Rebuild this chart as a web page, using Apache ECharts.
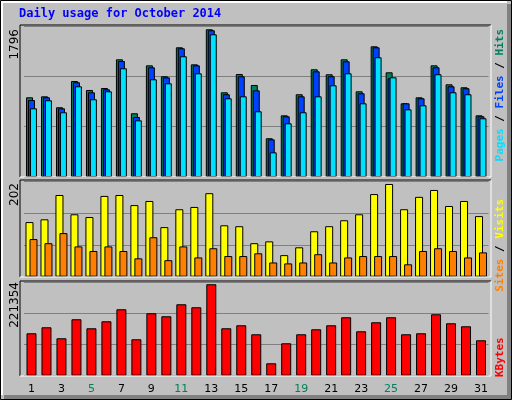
<!DOCTYPE html>
<html>
<head>
<meta charset="utf-8">
<script src="https://cdn.jsdelivr.net/npm/echarts@6/dist/echarts.min.js"></script>
<style>
  html, body { margin: 0; padding: 0; background: #c0c0c0; }
  #chart { width: 512px; height: 400px; }
</style>
</head>
<body>
<div id="chart"></div>
<script>
// Data
var days = ["1","2","3","4","5","6","7","8","9","10","11","12","13","14","15","16",
            "17","18","19","20","21","22","23","24","25","26","27","28","29","30","31"];
var weekendDays = ["4","5","11","12","18","19","25","26"];

var hits  = [969,981,848,1167,1058,1082,1431,775,1358,1225,1577,1370,1796,1030,1252,1119,
             471,750,1006,1310,1249,1431,1042,1589,1273,896,969,1358,1127,1091,750];
var files = [936,969,835,1152,1030,1066,1411,730,1334,1212,1565,1358,1784,1006,1225,1054,
             458,738,981,1285,1225,1407,1018,1577,1200,896,957,1334,1103,1079,738];
var pages = [835,933,787,1103,945,1042,1322,689,1188,1139,1468,1261,1735,957,981,799,
             300,653,787,981,1115,1261,896,1456,1212,823,872,1249,1030,1006,714];

var visits = [119,125,178,136,130,176,178,156,165,108,147,152,182,112,110,73,
              77,47,64,99,110,123,136,180,202,147,174,189,154,165,132];
var sites  = [82,73,95,66,56,66,56,40,86,36,66,42,62,45,45,51,
              31,29,31,49,31,42,45,45,45,27,56,62,56,42,53];

var kbytes = [102693,117225,90583,136601,114803,131757,160821,88161,151133,143867,172931,165665,
              221354,114803,122069,100271,30033,78473,100271,112381,122069,141445,107537,129355,
              141445,100271,102693,148711,126915,119647,85739];

var maxLabels = ["1796", "202", "221354"];

var chart = echarts.init(document.getElementById("chart"));

// Grid areas, one per panel
var grids = [
    { left: 24, width: 464.5, top: 26, height: 151 },
    { left: 24, width: 464.5, top: 181.7, height: 95 },
    { left: 24, width: 464.5, top: 282, height: 93.7 }
];
var yMax = [1836, 207, 226800];

function makeX(i) {
    return {
        type: "category", gridIndex: i, data: days,
        axisLine: { show: false }, axisTick: { show: false },
        axisLabel: i < 2 ? { show: false } : {
            margin: 8, fontFamily: "DejaVu Sans", fontSize: 11,
            color: function (v) { return weekendDays.indexOf(v) >= 0 ? "#00805c" : "#000"; }
        }
    };
}
function makeY(i) {
    return {
        type: "value", gridIndex: i, min: 0, max: yMax[i], interval: yMax[i] / 3,
        axisLabel: { show: false }, axisLine: { show: false }, axisTick: { show: false },
        splitLine: { lineStyle: { color: "#808080", width: 1 } }
    };
}
function bar(name, data, color, idx, width, gap) {
    return {
        name: name, type: "bar", data: data, xAxisIndex: idx, yAxisIndex: idx,
        barWidth: width, barGap: gap, animation: false,
        itemStyle: { color: color, borderColor: "#000", borderWidth: 1 }
    };
}

// Panel frames: dark on top/left, white on right/bottom
var frames = [];
[[20, 25, 491, 177], [20, 180, 491, 277], [20, 281, 491, 376]].forEach(function (f) {
    frames.push({ type: "line", shape: { x1: f[0], y1: f[1], x2: f[2], y2: f[1] }, style: { stroke: "#000", lineWidth: 1 }, z: 10 });
    frames.push({ type: "line", shape: { x1: f[0], y1: f[1], x2: f[0], y2: f[3] }, style: { stroke: "#000", lineWidth: 1 }, z: 10 });
    frames.push({ type: "line", shape: { x1: f[2], y1: f[1], x2: f[2], y2: f[3] }, style: { stroke: "#fff", lineWidth: 1 }, z: 10 });
    frames.push({ type: "line", shape: { x1: f[0], y1: f[3], x2: f[2], y2: f[3] }, style: { stroke: "#fff", lineWidth: 1 }, z: 10 });
});

var sideFont = "DejaVu Sans Mono";
var graphics = [
    { type: "rect", shape: { x: 0.5, y: 0.5, width: 511, height: 399 }, style: { fill: "#c0c0c0", stroke: "#000" }, z: -10 },
    { type: "rect", shape: { x: 507, y: 4, width: 4, height: 395 }, style: { fill: "#808080" }, z: -9 },
    { type: "rect", shape: { x: 4, y: 395, width: 507, height: 4 }, style: { fill: "#808080" }, z: -9 },
    { type: "polyline", shape: { points: [[2, 395], [2, 2], [507, 2]] }, style: { stroke: "#fff", fill: null, lineWidth: 2 }, z: -8 },
    { type: "text", x: 19, y: 8, style: { text: "Daily usage for October 2014", fill: "#0000ff",
        font: "bold 12px " + sideFont } },
    { type: "text", x: 15, y: 29, rotation: Math.PI / 2,
        style: { text: maxLabels[0], fill: "#000", font: "12px DejaVu Sans", align: "right", verticalAlign: "middle" } },
    { type: "text", x: 15, y: 183, rotation: Math.PI / 2,
        style: { text: maxLabels[1], fill: "#000", font: "12px DejaVu Sans", align: "right", verticalAlign: "middle" } },
    { type: "text", x: 15, y: 282, rotation: Math.PI / 2,
        style: { text: maxLabels[2], fill: "#000", font: "12px DejaVu Sans", align: "right", verticalAlign: "middle" } },
    { type: "text", x: 500, y: 29, rotation: Math.PI / 2,
        style: { text: "{p|Pages} / {f|Files} / {h|Hits}", fill: "#000", font: "bold 11px " + sideFont,
            align: "right", verticalAlign: "middle",
            rich: { p: { fill: "#00e0ff", font: "bold 11px " + sideFont },
                    f: { fill: "#0040ff", font: "bold 11px " + sideFont },
                    h: { fill: "#00805c", font: "bold 11px " + sideFont } } } },
    { type: "text", x: 500, y: 199, rotation: Math.PI / 2,
        style: { text: "{s|Sites} / {v|Visits}", fill: "#000", font: "bold 11px " + sideFont,
            align: "right", verticalAlign: "middle",
            rich: { s: { fill: "#ff8000", font: "bold 11px " + sideFont },
                    v: { fill: "#ffff00", font: "bold 11px " + sideFont } } } },
    { type: "text", x: 500, y: 377, rotation: Math.PI / 2,
        style: { text: "KBytes", fill: "#ff0000", font: "bold 11px " + sideFont,
            align: "left", verticalAlign: "middle" } }
].concat(frames);

chart.setOption({
    animation: false,
    grid: grids,
    xAxis: [makeX(0), makeX(1), makeX(2)],
    yAxis: [makeY(0), makeY(1), makeY(2)],
    series: [
        bar("Hits", hits, "#00805c", 0, 7, "-72%"),
        bar("Files", files, "#0040ff", 0, 7, "-72%"),
        bar("Pages", pages, "#00e0ff", 0, 7, "-72%"),
        bar("Visits", visits, "#ffff00", 1, 8, "-50%"),
        bar("Sites", sites, "#ff8000", 1, 8, "-50%"),
        bar("KBytes", kbytes, "#ff0000", 2, 10, "0%")
    ],
    graphic: graphics
});
</script>
</body>
</html>
